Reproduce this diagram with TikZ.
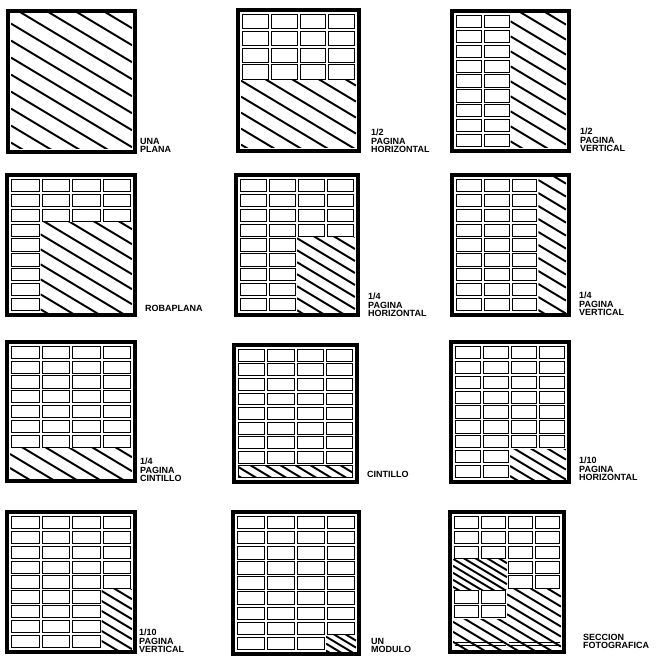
\documentclass[tikz,border=0pt]{standalone}
\usepackage{fontspec}
\newfontfamily\labelfont{Liberation Sans}
\tikzset{
  frame/.style={line width=3.8pt, line join=miter},
  modbox/.style={line width=0.9pt},
  hatchline/.style={line width=1.9pt},
  lbl/.style={anchor=south west, inner sep=0pt, align=left, text depth=0pt,
    font=\labelfont\bfseries\fontsize{9}{8.7}\selectfont}
}
% panel parameters: outer frame x0 y0 x1 y1, columns, rows
\newcommand\setpanel[6]{%
  \def\FXa{#1}\def\FYa{#2}\def\FXb{#3}\def\FYb{#4}%
  \pgfmathsetmacro\PX{#1+5}\pgfmathsetmacro\PY{#2+5}%
  \pgfmathsetmacro\CW{(#3-#1-10)/#5}\pgfmathsetmacro\CH{(#4-#2-10)/#6}}
\newcommand\pframe{\draw[frame] ({\FXa+1.9},{\FYa+1.9}) rectangle ({\FXb-1.9},{\FYb-1.9});}
\newcommand\cellbox[2]{\draw[modbox] ({\PX+(#1-1)*\CW+1.5},{\PY+(#2-1)*\CH+1.3}) rectangle ({\PX+#1*\CW-1.5},{\PY+#2*\CH-1.3});}
\newcommand\cellrange[4]{\foreach \cc in {#1,...,#3}{\foreach \rr in {#2,...,#4}{\cellbox{\cc}{\rr}}}}
\newcommand\hatchrect[5]{%
  \begin{scope}
    \clip (#1,#2) rectangle (#3,#4);
    \pgfmathtruncatemacro\kmin{floor((#2-0.6*(#3))/#5)-1}
    \pgfmathtruncatemacro\kmax{ceil((#4-0.6*(#1))/#5)+1}
    \foreach \k in {\kmin,...,\kmax}{\draw[hatchline] (#1,{0.6*(#1)+\k*#5}) -- (#3,{0.6*(#3)+\k*#5});}
  \end{scope}}
\newcommand\hatchcells[5]{%
  \pgfmathsetmacro\ha{\PX+(#1-1)*\CW}\pgfmathsetmacro\hb{\PY+(#2-1)*\CH}%
  \pgfmathsetmacro\hc{\PX+#3*\CW}\pgfmathsetmacro\hd{\PY+#4*\CH}%
  \hatchrect{\ha}{\hb}{\hc}{\hd}{#5}}
\newcommand\stripcells[5]{%
  \pgfmathsetmacro\ha{\PX+(#1-1)*\CW+1.5}\pgfmathsetmacro\hb{\PY+(#2-1)*\CH+1.5}%
  \pgfmathsetmacro\hc{\PX+#3*\CW-1.5}\pgfmathsetmacro\hd{\PY+#4*\CH-1.5}%
  \hatchrect{\ha}{\hb}{\hc}{\hd}{#5}%
  \draw[modbox] (\ha,\hb) rectangle (\hc,\hd);}
\begin{document}
\begin{tikzpicture}[x=1pt,y=-1pt]
\useasboundingbox (0,0) rectangle (671,660);

% 1 UNA PLANA
\setpanel{6}{9}{137}{154}{4}{9}
\hatchcells{1}{1}{4}{9}{17}
\pframe
\node[lbl] (l1) at (140,153) {UNA\\PLANA};

% 2 1/2 PAGINA HORIZONTAL
\setpanel{236}{8}{361}{153}{4}{8}
\cellrange{1}{1}{4}{4}
\hatchcells{1}{5}{4}{8}{16}
\pframe
\node[lbl] (l2) at (371,153) {1/2\\PAGINA\\HORIZONTAL};

% 3 1/2 PAGINA VERTICAL
\setpanel{450}{9}{571}{153}{4}{9}
\cellrange{1}{1}{2}{9}
\hatchcells{3}{1}{4}{9}{15}
\pframe
\node[lbl] (l3) at (580,152) {1/2\\PAGINA\\VERTICAL};

% 4 ROBAPLANA
\setpanel{5}{173}{137}{317}{4}{9}
\cellrange{1}{1}{4}{3}
\cellrange{1}{4}{1}{9}
\hatchcells{2}{4}{4}{9}{15}
\pframe
\node[lbl] (l4) at (145,312) {ROBAPLANA};

% 5 1/4 PAGINA HORIZONTAL
\setpanel{234}{173}{360}{317}{4}{9}
\cellrange{1}{1}{4}{4}
\cellrange{1}{5}{2}{9}
\hatchcells{3}{5}{4}{9}{12}
\pframe
\node[lbl] (l5) at (368,317) {1/4\\PAGINA\\HORIZONTAL};

% 6 1/4 PAGINA VERTICAL
\setpanel{450}{173}{571}{317}{4}{9}
\cellrange{1}{1}{3}{9}
\hatchcells{4}{1}{4}{9}{13}
\pframe
\node[lbl] (l6) at (579,316) {1/4\\PAGINA\\VERTICAL};

% 7 1/4 PAGINA CINTILLO
\setpanel{5}{340}{137}{483}{4}{9}
\cellrange{1}{1}{4}{7}
\hatchcells{1}{8}{4}{9}{14}
\pframe
\node[lbl] (l7) at (140,482) {1/4\\PAGINA\\CINTILLO};

% 8 CINTILLO
\setpanel{232}{343}{359}{484}{4}{9}
\cellrange{1}{1}{4}{8}
\stripcells{1}{9}{4}{9}{9}
\pframe
\node[lbl] (l8) at (367,478) {CINTILLO};

% 9 1/10 PAGINA HORIZONTAL
\setpanel{449}{340}{571}{484}{4}{9}
\cellrange{1}{1}{4}{7}
\cellrange{1}{8}{2}{9}
\hatchcells{3}{8}{4}{9}{10}
\pframe
\node[lbl] (l9) at (579,481) {1/10\\PAGINA\\HORIZONTAL};

% 10 1/10 PAGINA VERTICAL
\setpanel{5}{510}{137}{654}{4}{9}
\cellrange{1}{1}{4}{5}
\cellrange{1}{6}{3}{9}
\hatchcells{4}{6}{4}{9}{10}
\pframe
\node[lbl] (l10) at (139,653) {1/10\\PAGINA\\VERTICAL};

% 11 UN MODULO
\setpanel{231}{510}{361}{656}{4}{9}
\cellrange{1}{1}{4}{8}
\cellrange{1}{9}{3}{9}
\hatchcells{4}{9}{4}{9}{7}
\pframe
\node[lbl] (l11) at (371,653) {UN\\MODULO};

% 12 SECCION FOTOGRAFICA
\setpanel{448}{510}{566}{654}{4}{9}
\cellrange{1}{1}{4}{3}
\cellrange{3}{4}{4}{5}
\cellrange{1}{6}{2}{7}
\hatchcells{1}{4}{2}{5}{7}
\hatchcells{3}{6}{4}{9}{10}
\hatchcells{1}{8}{2}{9}{10}
\draw[modbox] ({\PX+1.5},{\FYb-12}) -- ({\PX+2*\CW-1.5},{\FYb-12})
              ({\PX+1.5},{\FYb-9}) -- ({\PX+2*\CW-1.5},{\FYb-9})
              ({\PX+2*\CW+1.5},{\FYb-12}) -- ({\PX+4*\CW-1.5},{\FYb-12})
              ({\PX+2*\CW+1.5},{\FYb-9}) -- ({\PX+4*\CW-1.5},{\FYb-9});
\pframe
\node[lbl] (l12) at (583,649) {SECCION\\FOTOGRAFICA};
\end{tikzpicture}
\end{document}
